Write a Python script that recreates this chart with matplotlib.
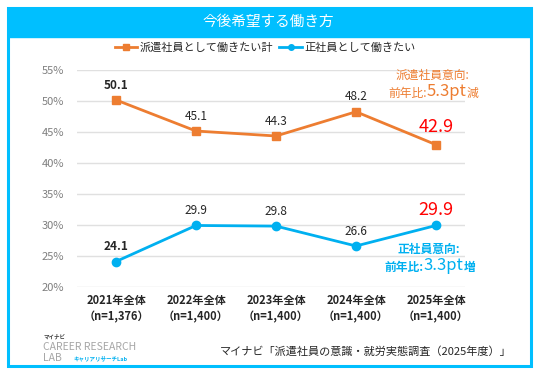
import matplotlib
matplotlib.use("Agg")
import matplotlib.pyplot as plt
from matplotlib.patches import Rectangle
from matplotlib.lines import Line2D
from matplotlib.offsetbox import TextArea, HPacker, AnnotationBbox

plt.rcParams['font.family'] = ['Noto Sans CJK JP', 'DejaVu Sans']

categories = ["2021年全体\n（n=1,376）", "2022年全体\n（n=1,400）", "2023年全体\n（n=1,400）",
              "2024年全体\n（n=1,400）", "2025年全体\n（n=1,400）"]
haken = [50.1, 45.1, 44.3, 48.2, 42.9]
seishain = [24.1, 29.9, 29.8, 26.6, 29.9]
yticks = [20, 25, 30, 35, 40, 45, 50, 55]
series_names = ["派遣社員として働きたい計", "正社員として働きたい"]
title = "今後希望する働き方"
source = "マイナビ「派遣社員の意識・就労実態調査（2025年度）」"

ORANGE = "#ED7D31"
BLUE = "#00B0F0"
FRAME = "#00BFFF"
RED = "#FF0000"

W, H = 536, 369
fig = plt.figure(figsize=(W / 100, H / 100), dpi=100)
fig.patch.set_facecolor("white")

def fx(px):
    return px / W

def fy(py):
    return 1 - py / H

# Frame and title band
fig.add_artist(Rectangle((fx(8), fy(366)), fx(523), (366 - 8) / H, transform=fig.transFigure,
                         fill=False, edgecolor=FRAME, linewidth=2.2))
fig.add_artist(Rectangle((fx(8), fy(37)), fx(523), (37 - 8) / H, transform=fig.transFigure,
                         facecolor=FRAME, edgecolor=FRAME, linewidth=1))
fig.text(fx(268), fy(22), title, color="white", fontsize=10.5, ha="center", va="center")

# Axes
ax = fig.add_axes([fx(77), fy(287), fx(465 - 77), (287 - 69.5) / H])
x = list(range(len(categories)))
ax.set_xlim(-0.4875, 4.3625)
ax.set_ylim(20, 55)
for s in ax.spines.values():
    s.set_visible(False)
ax.set_yticks(yticks)
ax.set_yticklabels([f"{v}%" for v in yticks], color="#7F7F7F", fontsize=8)
ax.yaxis.grid(True, color="#E0E0E0", linewidth=1)
ax.set_axisbelow(True)
ax.tick_params(axis="both", length=0)
ax.tick_params(axis="y", pad=9)
ax.set_xticks(x)
ax.set_xticklabels(categories, fontsize=8, color="#262626", fontweight="bold", linespacing=1.35)
ax.tick_params(axis="x", pad=5)

ax.plot(x, haken, color=ORANGE, linewidth=2, marker="s", markersize=6, clip_on=False, zorder=3)
ax.plot(x, seishain, color=BLUE, linewidth=2, marker="o", markersize=6, clip_on=False, zorder=3)

def label_series(vals, last_offset):
    n = len(vals)
    for i, v in enumerate(vals):
        if i == n - 1:
            ax.annotate(f"{v}", (i, v), xytext=(0, last_offset), textcoords="offset points",
                        ha="center", va="bottom", color=RED, fontsize=13)
        else:
            ax.annotate(f"{v}", (i, v), xytext=(0, 6), textcoords="offset points", ha="center",
                        va="bottom", color="#262626", fontsize=8.5,
                        fontweight="bold" if i == 0 else "normal")

label_series(haken, 6)
label_series(seishain, 5)

# Annotations with mixed sizes
def mixed(parts, color, xc, yc):
    areas = [TextArea(t, textprops=dict(color=color, fontsize=fs, fontweight=fw))
             for t, fs, fw in parts]
    box = HPacker(children=areas, align="baseline", pad=0, sep=0)
    ab = AnnotationBbox(box, (fx(xc), fy(yc)), xycoords="figure fraction", frameon=False,
                        box_alignment=(0.5, 0.5), pad=0)
    fig.add_artist(ab)

mixed([("派遣社員意向:", 8.5, "normal")], ORANGE, 432, 75)
mixed([("前年比:", 8.5, "normal"), ("5.3pt", 12, "normal"), ("減", 8.5, "normal")], ORANGE, 433, 92)
mixed([("正社員意向:", 8.5, "bold")], BLUE, 429, 249)
mixed([("前年比:", 8.5, "bold"), ("3.3pt", 12, "normal"), ("増", 8.5, "bold")], BLUE, 430, 266)

# Legend
handles = [Line2D([], [], color=ORANGE, marker="s", markersize=4, linewidth=2),
           Line2D([], [], color=BLUE, marker="o", markersize=4, linewidth=2)]
fig.legend(handles, series_names, loc="center", bbox_to_anchor=(fx(265), fy(48)), ncol=2,
           frameon=False, fontsize=8, handlelength=2, handletextpad=0.2, columnspacing=0.6,
           labelcolor="#262626")

# Footer
fig.text(fx(512), fy(352), source, fontsize=8, ha="right", va="center", color="#262626")
fig.text(fx(43), fy(337), "マイナビ", fontsize=4, ha="left", va="center", color="#404040", fontweight="bold")
fig.text(fx(43), fy(347), "CAREER RESEARCH", fontsize=7.5, ha="left", va="center", color="#A6A6A6")
fig.text(fx(43), fy(358), "LAB", fontsize=7.5, ha="left", va="center", color="#A6A6A6")
fig.text(fx(73), fy(358), "キャリアリサーチLab", fontsize=4, ha="left", va="center", color="#00B0F0", fontweight="bold")

fig.savefig("out.png", dpi=100)
